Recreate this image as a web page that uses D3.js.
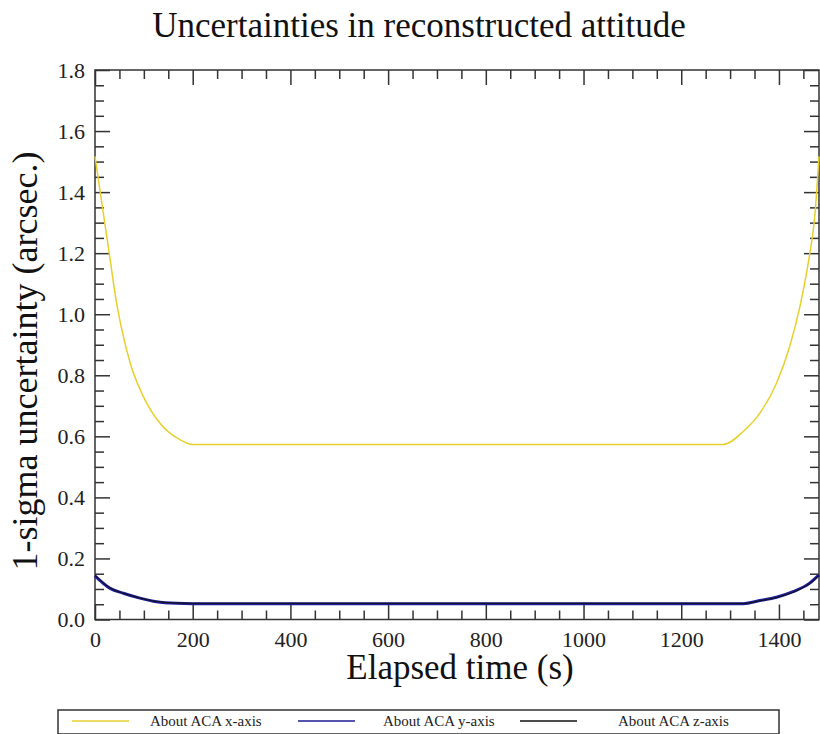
<!DOCTYPE html>
<html>
<head>
<meta charset="utf-8">
<script src="https://cdn.jsdelivr.net/npm/d3@7"></script>
<style>
  body { margin: 0; background: #fff; }
  svg { display: block; font-family: "Liberation Serif", "DejaVu Serif", serif; }
</style>
</head>
<body>
<div id="chart"></div>
<script>
// time (s) and 1-sigma uncertainty (arcsec) for each axis
var timeX = [0, 12, 22, 32, 42, 55, 72, 99, 133, 174, 201, 1286, 1327, 1361, 1395, 1422, 1443, 1460, 1474, 1482];
var sigmaX = [1.517, 1.386, 1.277, 1.168, 1.058, 0.949, 0.84, 0.73, 0.643, 0.589, 0.573, 0.573, 0.616, 0.676, 0.774, 0.894, 1.026, 1.168, 1.332, 1.517];
var timeY = [0, 31, 58, 92, 126, 167, 200, 1327, 1361, 1395, 1429, 1463, 1482];
var sigmaY = [0.143, 0.102, 0.086, 0.070, 0.058, 0.053, 0.052, 0.052, 0.062, 0.073, 0.091, 0.119, 0.146];
var timeZ = [0, 30, 60, 90, 125, 165, 200, 1330, 1360, 1395, 1430, 1463, 1482];
var sigmaZ = [0.145, 0.104, 0.085, 0.071, 0.059, 0.054, 0.053, 0.053, 0.061, 0.072, 0.090, 0.118, 0.144];
var seriesNames = ["About ACA x-axis", "About ACA y-axis", "About ACA z-axis"];
var seriesColors = ["#e8cf2c", "#1c1c96", "#111111"];
var xTicks = [0, 200, 400, 600, 800, 1000, 1200, 1400];
var yTicks = [0, 0.2, 0.4, 0.6, 0.8, 1.0, 1.2, 1.4, 1.6, 1.8];

var width = 820;
var height = 734;
var plotLeft = 95, plotRight = 819, plotTop = 70, plotBottom = 619.5;

var svg = d3.select("#chart").append("svg")
  .attr("width", width)
  .attr("height", height);

var x = d3.scaleLinear().domain([0, 1482]).range([plotLeft, plotRight]);
var y = d3.scaleLinear().domain([0, 1.8]).range([plotBottom, plotTop]);

var minorX = d3.range(0, 1482, 50).filter(function (d) { return d % 200 !== 0; });
var minorY = d3.range(0, 1.8, 0.05).filter(function (d) { return Math.round(d * 100) % 20 !== 0; });

function tidy(g) {
  g.select(".domain").remove();
  g.selectAll(".tick line").attr("stroke", "#333").attr("stroke-width", 1.5);
}

// bottom axis
svg.append("g").attr("transform", "translate(0," + plotBottom + ")")
  .call(d3.axisBottom(x).tickValues(xTicks).tickSizeInner(-15).tickPadding(12).tickFormat(d3.format("d")))
  .call(tidy)
  .selectAll("text").attr("font-size", 22).attr("font-family", "Liberation Serif").attr("fill", "#222");
svg.append("g").attr("transform", "translate(0," + plotBottom + ")")
  .call(d3.axisBottom(x).tickValues(minorX).tickSizeInner(-9).tickFormat(""))
  .call(tidy);
// top axis
svg.append("g").attr("transform", "translate(0," + plotTop + ")")
  .call(d3.axisTop(x).tickValues(xTicks).tickSizeInner(-15).tickFormat(""))
  .call(tidy);
svg.append("g").attr("transform", "translate(0," + plotTop + ")")
  .call(d3.axisTop(x).tickValues(minorX).tickSizeInner(-9).tickFormat(""))
  .call(tidy);
// left axis
svg.append("g").attr("transform", "translate(" + plotLeft + ",0)")
  .call(d3.axisLeft(y).tickValues(yTicks).tickSizeInner(-15).tickPadding(10).tickFormat(d3.format(".1f")))
  .call(tidy)
  .selectAll("text").attr("font-size", 22).attr("font-family", "Liberation Serif").attr("fill", "#222");
svg.append("g").attr("transform", "translate(" + plotLeft + ",0)")
  .call(d3.axisLeft(y).tickValues(minorY).tickSizeInner(-9).tickFormat(""))
  .call(tidy);
// right axis
svg.append("g").attr("transform", "translate(" + plotRight + ",0)")
  .call(d3.axisRight(y).tickValues(yTicks).tickSizeInner(-15).tickFormat(""))
  .call(tidy);
svg.append("g").attr("transform", "translate(" + plotRight + ",0)")
  .call(d3.axisRight(y).tickValues(minorY).tickSizeInner(-9).tickFormat(""))
  .call(tidy);

svg.append("rect")
  .attr("x", plotLeft).attr("y", plotTop)
  .attr("width", plotRight - plotLeft).attr("height", plotBottom - plotTop)
  .attr("fill", "none").attr("stroke", "#333").attr("stroke-width", 1.5);

var line = d3.line()
  .x(function (d) { return x(d[0]); })
  .y(function (d) { return y(d[1]); })
  .curve(d3.curveMonotoneX);

var series = [
  { t: timeX, v: sigmaX, w: 1.5 },
  { t: timeY, v: sigmaY, w: 3 },
  { t: timeZ, v: sigmaZ, w: 1 }
];

series.forEach(function (s, i) {
  svg.append("path")
    .datum(d3.zip(s.t, s.v))
    .attr("d", line)
    .attr("fill", "none")
    .attr("stroke", seriesColors[i])
    .attr("stroke-width", s.w);
});

// titles
svg.append("text")
  .attr("x", 419).attr("y", 37)
  .attr("text-anchor", "middle")
  .attr("font-size", 35)
  .attr("fill", "#111")
  .text("Uncertainties in reconstructed attitude");

svg.append("text")
  .attr("x", 460).attr("y", 679)
  .attr("text-anchor", "middle")
  .attr("font-size", 35)
  .attr("fill", "#111")
  .text("Elapsed time (s)");

svg.append("text")
  .attr("transform", "translate(37,361) rotate(-90)")
  .attr("text-anchor", "middle")
  .attr("font-size", 36)
  .attr("fill", "#111")
  .text("1-sigma uncertainty (arcsec.)");

// legend
var legend = svg.append("g");
legend.append("rect")
  .attr("x", 58).attr("y", 710)
  .attr("width", 721).attr("height", 24)
  .attr("fill", "#fff").attr("stroke", "#333").attr("stroke-width", 1.5);

var legendLineX = [72, 298, 520];
var legendTextX = [150, 383, 618];
seriesNames.forEach(function (name, i) {
  legend.append("line")
    .attr("x1", legendLineX[i]).attr("x2", legendLineX[i] + 57)
    .attr("y1", 721).attr("y2", 721)
    .attr("stroke", seriesColors[i]).attr("stroke-width", 1.5);
  legend.append("text")
    .attr("x", legendTextX[i]).attr("y", 726)
    .attr("font-size", 15)
    .attr("fill", "#222")
    .text(name);
});
</script>
</body>
</html>
